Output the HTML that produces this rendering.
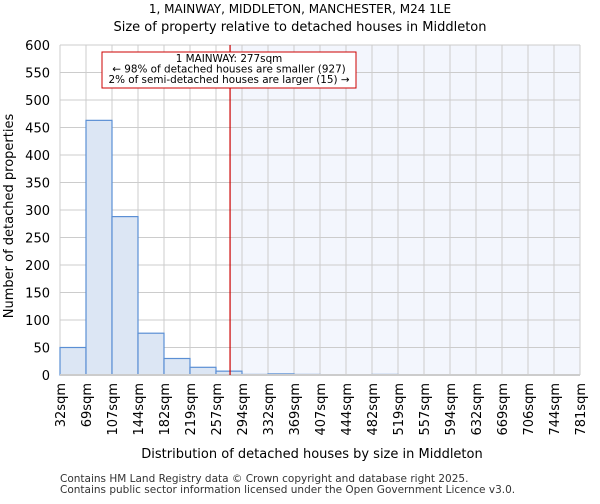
<!DOCTYPE html>
<html><head><meta charset="utf-8"><style>
body{margin:0;background:#fff;font-family:"DejaVu Sans","Liberation Sans",sans-serif}
</style></head><body>
<svg id="c" width="600" height="500" xmlns="http://www.w3.org/2000/svg" font-family="DejaVu Sans, Liberation Sans, sans-serif">
<text x="300" y="13" text-anchor="middle" font-size="12">1, MAINWAY, MIDDLETON, MANCHESTER, M24 1LE</text>
<text x="300" y="31" text-anchor="middle" font-size="13">Size of property relative to detached houses in Middleton</text>
<g id="plot"></g>
<text x="312" y="458" text-anchor="middle" font-size="13">Distribution of detached houses by size in Middleton</text>
<text transform="translate(13,216) rotate(-90)" text-anchor="middle" font-size="13">Number of detached properties</text>
<text x="60" y="482" font-size="10.5" fill="#333">Contains HM Land Registry data © Crown copyright and database right 2025.</text>
<text x="60" y="493" font-size="10.5" fill="#333">Contains public sector information licensed under the Open Government Licence v3.0.</text>
</svg>
<script>
const edges=[32,69,107,144,182,219,257,294,332,369,407,444,482,519,557,594,632,669,706,744,781];
const counts=[50,463,288,76,30,14,7,1,2,1,0,0,1,0,0,0,0,0,0,0];
const yTicks=[0,50,100,150,200,250,300,350,400,450,500,550,600];
const propertySize=277;
const L=60,R=580,T=45,B=375,NS="http://www.w3.org/2000/svg";
const nb=edges.length-1;
const xi=i=>L+(R-L)*i/nb;
const xv=v=>{for(let i=0;i<nb;i++){if(v<=edges[i+1])return xi(i)+(v-edges[i])/(edges[i+1]-edges[i])*(xi(i+1)-xi(i));}return R;};
const y=v=>B-(B-T)*v/600;
const g=document.getElementById('plot');
function mk(t,a,p){const e=document.createElementNS(NS,t);for(const k in a)e.setAttribute(k,a[k]);(p||g).appendChild(e);return e;}
const lx=xv(propertySize);
const sh=mk('rect',{x:lx,y:T,width:R-lx,height:B-T,fill:'#f3f6fd'});


yTicks.forEach(t=>{const l=mk('line',{x1:L,x2:R,y1:y(t),y2:y(t),stroke:'#ccc'});


const tx=mk('text',{x:L-10,y:y(t)+5,'text-anchor':'end','font-size':13});tx.textContent=t;

});
edges.forEach((e,i)=>{const l=mk('line',{x1:xi(i),x2:xi(i),y1:T,y2:B,stroke:'#ccc'});


const tx=mk('text',{transform:`translate(${xi(i)+5},${B+8}) rotate(-90)`,'text-anchor':'end','font-size':13});tx.textContent=e+'sqm';

});
counts.forEach((c,i)=>{if(c<=0)return;const r=mk('rect',{x:xi(i),y:y(c),width:xi(i+1)-xi(i),height:B-y(c),fill:'#dce6f4',stroke:'#5b8fd4','stroke-width':1.2});

});
const ax=mk('line',{x1:L,x2:R,y1:B,y2:B,stroke:'#ccc','stroke-width':2});


const pl=mk('line',{x1:lx,x2:lx,y1:T,y2:B,stroke:'#cc0000','stroke-width':1.2});


const ag=mk('g',{});


mk('rect',{x:102,y:52,width:254,height:36,fill:'#fff',stroke:'#cc0000'},ag);
['1 MAINWAY: 277sqm','← 98% of detached houses are smaller (927)','2% of semi-detached houses are larger (15) →'].forEach((s,i)=>{const t=mk('text',{x:229,y:62+i*10.5,'text-anchor':'middle','font-size':10.4},ag);t.textContent=s;

});
</script>
</body></html>
